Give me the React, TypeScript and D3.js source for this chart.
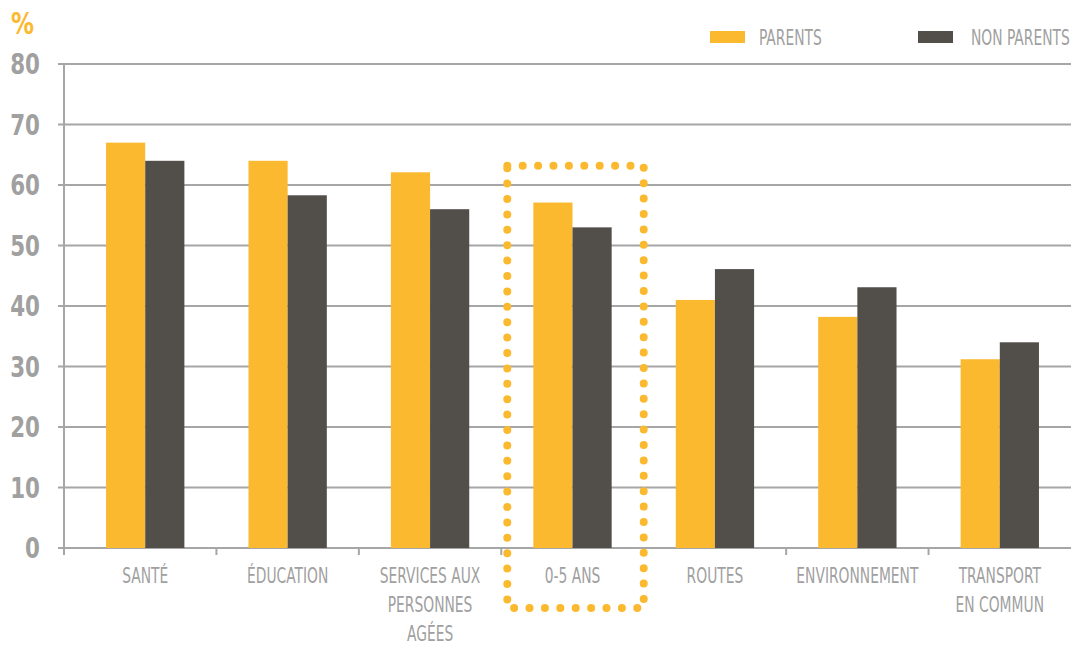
import React, { useEffect } from "react";
import * as d3 from "d3";

const categories = ["SANTÉ", "ÉDUCATION", "SERVICES AUX|PERSONNES|AGÉES", "0-5 ANS", "ROUTES", "ENVIRONNEMENT", "TRANSPORT|EN COMMUN"];
const parents = [67, 64, 62.1, 57.1, 41, 38.2, 31.2];
const nonParents = [64, 58.3, 56, 53, 46.1, 43.1, 34];
const yTicks = [0, 10, 20, 30, 40, 50, 60, 70, 80];
const seriesNames = ["PARENTS", "NON PARENTS"];
const highlightCategory = "0-5 ANS";
const highlightTop = 63.2;

const W = 1071;
const H = 647;
const ORANGE = "#FBB92F";
const DARK = "#524E4A";
const GRID = "#A6A6A6";
const TEXT = "#A0A0A0";
const FONT = "'DejaVu Sans Condensed', 'DejaVu Sans', sans-serif";
const SX = 0.7;

function CText(props: { x: number; y: number; anchor?: string; size: number; fill: string; weight?: string; sx?: number; children: React.ReactNode }) {
  const { x, y, anchor = "start", size, fill, weight = "normal", sx = SX, children } = props;
  return (
    <text transform={`translate(${x},${y}) scale(${sx},1)`} textAnchor={anchor} fontSize={size} fill={fill} fontWeight={weight}>
      {children}
    </text>
  );
}

export default function App() {
  useEffect(() => {
    document.body.style.margin = "0";
  }, []);

  const axisX = 64;
  const x = d3.scaleBand<string>().domain(categories).range([74, 1071]).paddingInner(0.45).paddingOuter(0.225);
  const y = d3.scaleLinear().domain([0, 80]).range([548, 64]);
  const step = x.step();
  const bw = x.bandwidth() / 2;
  const bandStart = (c: string) => (x(c) as number) - step * 0.225;

  const hx0 = bandStart(highlightCategory) + 6;
  const hx1 = bandStart(highlightCategory) + step;
  const hy0 = y(highlightTop);
  const hy1 = 608;

  return (
    <svg width={W} height={H} style={{ position: "absolute", left: 0, top: 0, background: "#fff" }} fontFamily={FONT}>
      {yTicks.map((t) => (
        <line key={"g" + t} x1={axisX - 6} x2={W} y1={y(t)} y2={y(t)} stroke={GRID} strokeWidth={2} />
      ))}
      <line x1={axisX} x2={axisX} y1={y(80) - 1} y2={y(0) + 7} stroke={GRID} strokeWidth={2} />
      {categories.slice(1).map((c) => (
        <line key={"t" + c} x1={bandStart(c)} x2={bandStart(c)} y1={y(0)} y2={y(0) + 7} stroke={GRID} strokeWidth={2} />
      ))}
      {yTicks.map((t) => (
        <CText key={"yl" + t} x={40} y={y(t) + 10} anchor="end" fill={TEXT} size={28} weight="bold" sx={0.85}>
          {t}
        </CText>
      ))}
      <CText x={11} y={34} fill={ORANGE} size={30} weight="bold" sx={0.85}>%</CText>
      {categories.map((c, i) => (
        <g key={"b" + c}>
          <rect x={x(c)} y={y(parents[i])} width={bw} height={y(0) - y(parents[i])} fill={ORANGE} />
          <rect x={(x(c) as number) + bw} y={y(nonParents[i])} width={bw} height={y(0) - y(nonParents[i])} fill={DARK} />
        </g>
      ))}
      {categories.map((c) => {
        const cx = (x(c) as number) + x.bandwidth() / 2;
        return (
          <g key={"cl" + c}>
            {c.split("|").map((line, j) => (
              <CText key={j} x={cx} y={583 + j * 29} anchor="middle" fill={TEXT} size={22}>
                {line}
              </CText>
            ))}
          </g>
        );
      })}
      <rect x={hx0} y={hy0} width={hx1 - hx0} height={hy1 - hy0} fill="none" stroke={ORANGE} strokeWidth={8} strokeLinecap="round" strokeDasharray="0 15.4" />
      <rect x={710} y={31} width={35} height={12} fill={ORANGE} />
      <CText x={759} y={45} fill={TEXT} size={22}>{seriesNames[0]}</CText>
      <rect x={918} y={31} width={35} height={12} fill={DARK} />
      <CText x={971} y={45} fill={TEXT} size={22}>{seriesNames[1]}</CText>
    </svg>
  );
}
